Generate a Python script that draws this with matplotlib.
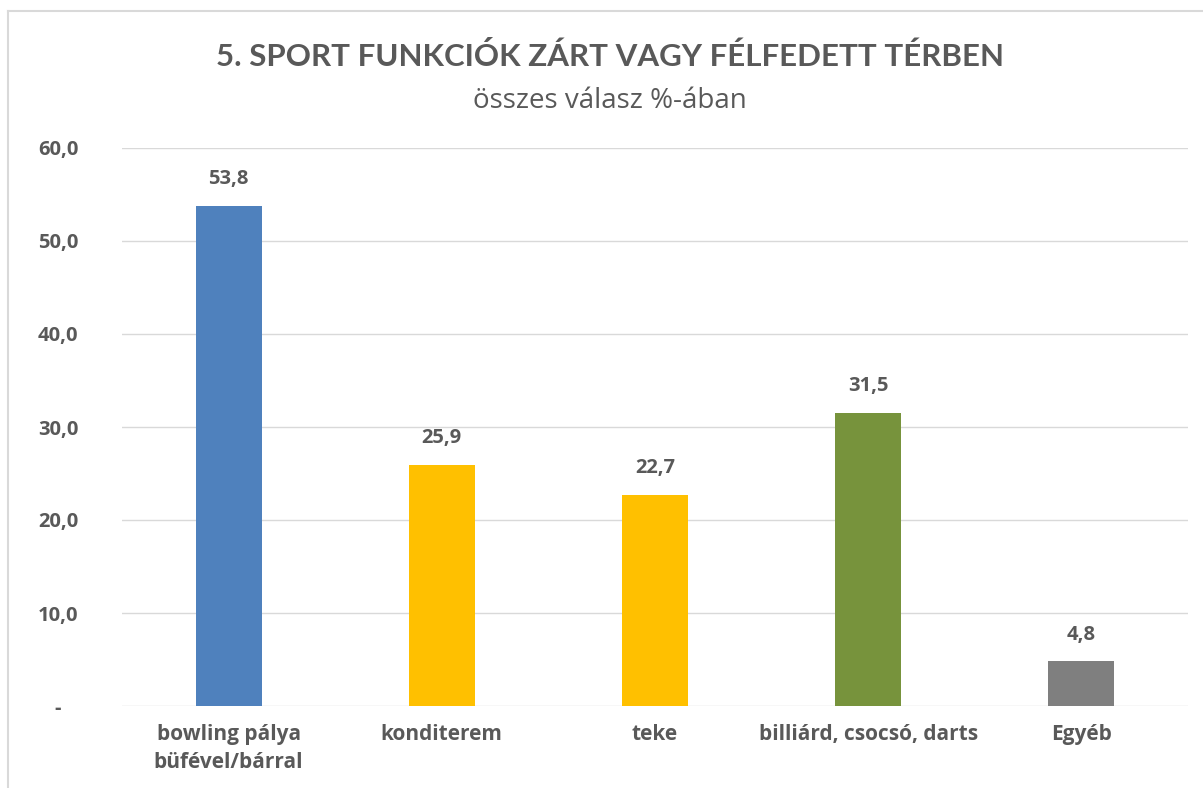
import matplotlib
matplotlib.use("Agg")
import matplotlib.pyplot as plt
from matplotlib.lines import Line2D

categories = ["bowling pálya\nbüfével/bárral", "konditerem", "teke", "billiárd, csocsó, darts", "Egyéb"]
values = [53.8, 25.9, 22.7, 31.5, 4.8]
colors = ["#4F81BD", "#FFC000", "#FFC000", "#77933C", "#7F7F7F"]
yticks = [0, 10, 20, 30, 40, 50, 60]
ytick_labels = ["-", "10,0", "20,0", "30,0", "40,0", "50,0", "60,0"]
title = "5. SPORT FUNKCIÓK ZÁRT VAGY FÉLFEDETT TÉRBEN"
subtitle = "összes válasz %-ában"

plt.rcParams['font.family'] = ['Open Sans', 'DejaVu Sans']
txt = "#595959"

W, H = 1203, 788
fig = plt.figure(figsize=(W / 100, H / 100), dpi=100)
ax = fig.add_axes([122 / W, 1 - 706 / H, (1188 - 122) / W, (706 - 148) / H])

x = list(range(len(categories)))
bars = ax.bar(x, values, width=0.31, color=colors, zorder=3)
ax.set_xlim(-0.5, len(categories) - 0.5)
ax.set_ylim(0, 60)
ax.set_yticks(yticks)
ax.set_yticklabels(ytick_labels, fontsize=14.5, fontweight='bold', color=txt)
ax.set_xticks(x)
ax.set_xticklabels(categories, fontsize=15, fontweight='bold', color=txt, linespacing=1.45)
ax.tick_params(axis='both', length=0)
ax.tick_params(axis='y', pad=46)
ax.tick_params(axis='x', pad=13)
for lbl in ax.get_yticklabels():
    lbl.set_horizontalalignment('center')
ax.grid(axis='y', color='#D9D9D9', linewidth=1, zorder=0)
for s in ax.spines.values():
    s.set_visible(False)

for b, v in zip(bars, values):
    ax.annotate(f"{v:.1f}".replace(".", ","), (b.get_x() + b.get_width() / 2, v),
                xytext=(0, 12), textcoords='offset points', ha='center', va='bottom',
                fontsize=14.5, fontweight='bold', color=txt)

fig.text(610 / W, 1 - 57 / H, title, ha='center', va='center', fontsize=22.5,
         fontweight='bold', color=txt, family=['Lato', 'DejaVu Sans'])
fig.text(610 / W, 1 - 101 / H, subtitle, ha='center', va='center', fontsize=20, color=txt)

fig.add_artist(Line2D([8 / W, 1], [1 - 11 / H, 1 - 11 / H], transform=fig.transFigure,
                      color='#D9D9D9', linewidth=1.5))
fig.add_artist(Line2D([8 / W, 8 / W], [0, 1 - 11 / H], transform=fig.transFigure,
                      color='#D9D9D9', linewidth=1.5))

fig.savefig("out.png", dpi=100, facecolor='white')
